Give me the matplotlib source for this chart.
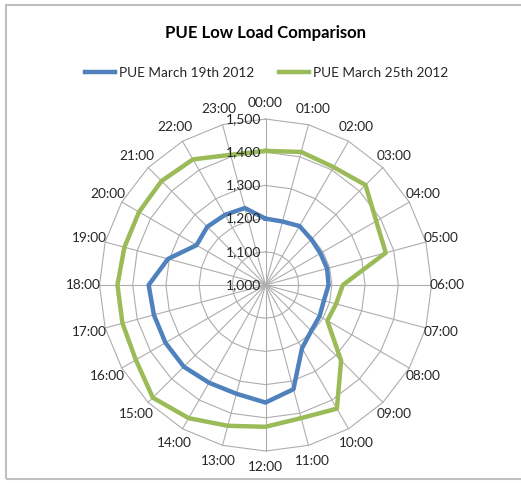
import numpy as np
import matplotlib
matplotlib.use("Agg")
import matplotlib.pyplot as plt
from matplotlib.patches import Rectangle
from matplotlib.lines import Line2D

plt.rcParams['font.family'] = ['Lato', 'DejaVu Sans']

hours = ["%02d:00" % h for h in range(24)]
pue_mar19 = [1200, 1198, 1205, 1195, 1191, 1192, 1190, 1182, 1188, 1195, 1220, 1325,
             1354, 1339, 1340, 1348, 1348, 1348, 1352, 1304, 1240, 1248, 1244, 1240]
pue_mar25 = [1404, 1415, 1410, 1426, 1385, 1375, 1233, 1220, 1215, 1322, 1430, 1415,
             1427, 1439, 1463, 1480, 1451, 1446, 1446, 1440, 1440, 1443, 1437, 1406]
r_ticks = [1000, 1100, 1200, 1300, 1400, 1500]
series_names = ["PUE March 19th 2012", "PUE March 25th 2012"]

blue = "#4F81BD"
green = "#9BBB59"
grid_col = "#ADADAD"
txt_col = "#262626"

fig = plt.figure(figsize=(5.21, 4.83), dpi=100)
ax = fig.add_axes([0.191, 0.0662, 0.6372, 0.6874], projection="polar")
ax.set_theta_zero_location("N")
ax.set_theta_direction(-1)
ax.set_ylim(r_ticks[0], r_ticks[-1])
ax.grid(False)
ax.spines["polar"].set_visible(False)
ax.set_xticks([])
ax.set_yticks([])
ax.patch.set_visible(False)

theta = np.deg2rad(np.arange(24) * 15.0)
theta_c = np.append(theta, theta[0])

# polygon grid rings
for v in r_ticks[1:]:
    ax.plot(theta_c, [v] * 25, color=grid_col, lw=0.8, zorder=1, clip_on=False)
# spokes
for t in theta:
    ax.plot([t, t], [r_ticks[0], r_ticks[-1]], color=grid_col, lw=0.8, zorder=1, clip_on=False)

# series
ax.plot(theta_c, pue_mar19 + pue_mar19[:1], color=blue, lw=3.2, zorder=3, clip_on=False)
ax.plot(theta_c, pue_mar25 + pue_mar25[:1], color=green, lw=3.2, zorder=3, clip_on=False)

# radial labels
for v in r_ticks:
    ax.annotate("{:,}".format(v), xy=(0, v), xytext=(-3, 0), textcoords="offset points",
                ha="right", va="center", fontsize=10, color=txt_col, zorder=4)

# category labels
r_lab = r_ticks[-1] + 500 * 16 / 166
for t, lab in zip(theta, hours):
    ax.text(t, r_lab, lab, ha="center", va="center", fontsize=9.8, color=txt_col)

fig.text(0.5096, 1 - 33 / 483, "PUE Low Load Comparison", ha="center", va="center",
         fontsize=12, fontweight="bold", color="#000000")

handles = [Line2D([], [], color=blue, lw=3.2), Line2D([], [], color=green, lw=3.2)]
fig.legend(handles, series_names, loc="center", bbox_to_anchor=(0.512, 1 - 73 / 483),
           ncol=2, frameon=False, handlelength=2.2, handletextpad=0.3, columnspacing=1.8,
           prop={"size": 9.8}, labelcolor=txt_col)

fig.patches.append(Rectangle((6 / 521, 4 / 483), 1.2, 1 - 9 / 483, transform=fig.transFigure,
                             fill=False, edgecolor="#BFBFBF", lw=1.5))

fig.savefig("out.png", dpi=100)
